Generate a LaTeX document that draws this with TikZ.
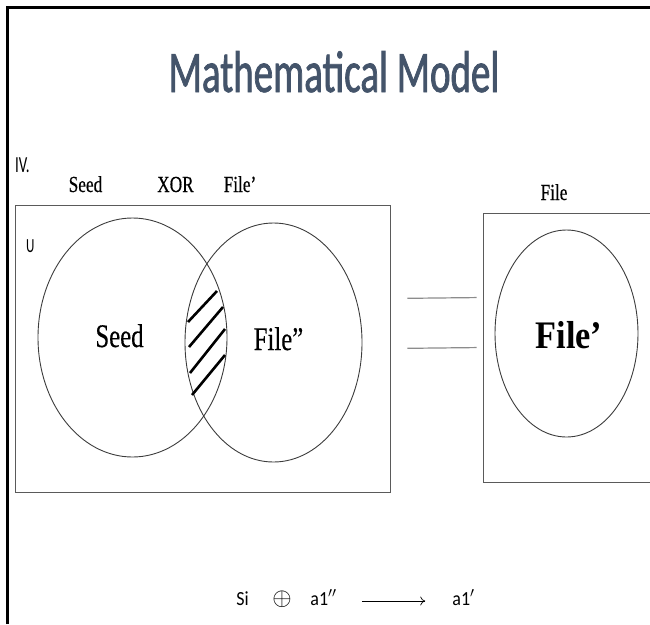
\documentclass[tikz,border=0pt]{standalone}
\usepackage{fontspec}
\setmainfont{Liberation Serif}
\newfontfamily\slidesans[FakeStretch=0.65]{Carlito}
\newfontfamily\titlesans[FakeStretch=0.66,FakeBold=1.2]{Carlito}
\newfontfamily\slideserif[FakeStretch=0.75,FakeBold=0.4]{Liberation Serif}
\newfontfamily\slideserifwide[FakeStretch=0.88]{Liberation Serif}
\newfontfamily\formulasans[FakeStretch=0.9]{Carlito}
\definecolor{titleslate}{RGB}{68,84,106}
\definecolor{boxgray}{RGB}{90,90,90}
\definecolor{ringgray}{RGB}{60,60,60}
\definecolor{eqgray}{RGB}{140,140,140}
\usetikzlibrary{arrows.meta,shapes.geometric}

\begin{document}
\begin{tikzpicture}[
  x=1pt,y=-1pt,
  every node/.style={inner sep=0pt},
  setbox/.style={draw=boxgray,line width=0.9pt,rectangle},
  setring/.style={draw=ringgray,line width=0.9pt,ellipse},
  toplabel/.style={font=\slideserif\fontsize{23}{26}\selectfont,anchor=base},
  setlabel/.style={font=\slideserif\fontsize{33}{36}\selectfont,anchor=base},
  formula/.style={font=\formulasans\fontsize{20}{22}\selectfont,anchor=base,
                  text height=14pt,text depth=6pt},
  hatch/.style={line width=2.6pt},
  eqline/.style={draw=eqgray,line width=1.2pt},
]
  \useasboundingbox (0,0) rectangle (650,624);
  \clip (0,0) rectangle (650,624);

  % Slide frame
  \draw[line width=2.2pt] (7.5,624) -- (7.5,7.5) -- (650,7.5);

  % Title
  \node[font=\titlesans\fontsize{59}{60}\selectfont,text=titleslate,anchor=base] (title)
    at (334,92) {Mathematical Model};

  % Labels above the sets
  \node[font=\slidesans\fontsize{23}{24}\selectfont,anchor=base west] (part) at (15,172) {IV.};
  \node[toplabel] (seedtop) at (85.5,192) {Seed};
  \node[toplabel] (xortop) at (175.5,192) {XOR};
  \node[toplabel] (fileptop) at (240,192) {File’};
  \node[toplabel] (filetop) at (554,200) {File};

  % Universe with Seed and File''
  \node[setbox,minimum width=375pt,minimum height=287pt] (ubox) at (202.5,348.5) {};
  \node[font=\slidesans\fontsize{20}{20}\selectfont,anchor=base west] (ulabel) at (26,252) {U};
  \node[setring,minimum width=189pt,minimum height=239pt] (seedset) at (132.5,337.5) {};
  \node[setring,minimum width=177pt,minimum height=239pt] (fileset) at (273.5,342.5) {};
  \node[setlabel] (seedtext) at (119.5,347) {Seed};
  \node[setlabel] (filetext) at (278.5,350) {File”};

  % XOR region
  \draw[hatch] (188,322) -- (217,291);
  \draw[hatch] (189,347) -- (223,307);
  \draw[hatch] (190,373) -- (225,329);
  \draw[hatch] (192,395) -- (225,355);

  % Result
  \node[setbox,minimum width=177pt,minimum height=269pt] (filebox) at (571.5,347.5) {};
  \node[setring,minimum width=143pt,minimum height=207pt] (fileset2) at (566.5,333.5) {};
  \node[font=\slideserifwide\bfseries\fontsize{39}{42}\selectfont,anchor=base] (filebold)
    at (569,348) {File’};

  % Equals sign
  \draw[eqline,shorten <=17pt,shorten >=6pt] ([yshift=50pt]ubox.east) -- ([yshift=50pt]filebox.west);
  \draw[eqline,shorten <=17pt,shorten >=6pt] (ubox.east) -- (filebox.west);

  % Formula
  \node[formula] (si) at (242.5,605) {Si};
  \node[formula] (xorsym) at (282,605) {\fontsize{26}{26}\selectfont$\oplus$};
  \node[formula] (a1pp) at (323.5,605) {a1$''$};
  \node[formula] (a1p) at (463.5,605) {a1$'$};
  \draw[-{To[length=5pt,width=9pt]},line width=0.7pt,shorten <=25pt,shorten >=27pt] (a1pp) -- (a1p);
\end{tikzpicture}
\end{document}
